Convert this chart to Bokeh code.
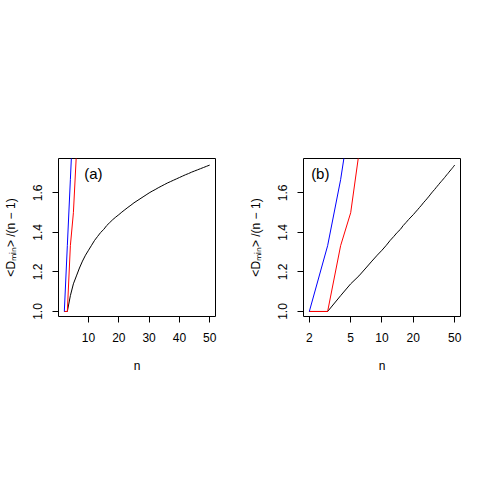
import numpy as np
from bokeh.plotting import figure
from bokeh.models import Range1d, FixedTicker, PrintfTickFormatter, Label
from bokeh.layouts import row
from bokeh.embed import file_html
from bokeh.resources import INLINE

# ---- data ----
n_black = list(range(2, 51))
d_black = [1.0, 1.0, 1.08, 1.14, 1.18, 1.22, 1.255, 1.285, 1.31, 1.335,
           1.36, 1.38, 1.40, 1.415, 1.435, 1.45, 1.465, 1.478, 1.49, 1.503,
           1.515, 1.527, 1.538, 1.55, 1.56, 1.57, 1.58, 1.59, 1.60, 1.609,
           1.617, 1.626, 1.634, 1.642, 1.65, 1.657, 1.664, 1.671, 1.678, 1.685,
           1.692, 1.698, 1.705, 1.711, 1.717, 1.723, 1.729, 1.735, 1.741]
n_blue = [2, 3, 4, 5, 6]
d_blue = [1.0, 1.333, 1.667, 2.0, 2.333]
n_red = [2, 3, 4, 5, 6, 7]
d_red = [1.0, 1.0, 1.333, 1.5, 1.8, 2.1]

x_ticks_a = [10, 20, 30, 40, 50]
x_ticks_b = [2, 5, 10, 20, 50]
y_ticks = [1.0, 1.2, 1.4, 1.6]

y_title = "<D\u2098\u1d62\u2099> /(n \u2212 1)"

FONT = "Liberation Sans"
W, H = 245, 400
BL, BR, BT = 57, 30, 158
FH = 158
Y0, Y1 = 0.9746, 1.7743


def make_panel(tag, log, tag_x):
    common = dict(width=W, height=H, y_range=Range1d(Y0, Y1),
                  output_backend="svg", toolbar_location=None,
                  min_border_left=BL, min_border_right=BR, min_border_top=BT,
                  min_border_bottom=H - BT - FH)
    if log:
        p = figure(x_range=Range1d(1.758, 56.89), x_axis_type="log", **common)
    else:
        p = figure(x_range=Range1d(0.08, 51.92), **common)
    p.background_fill_color = "white"
    p.border_fill_color = "white"
    p.outline_line_color = "black"
    p.outline_line_alpha = 1.0
    p.outline_line_width = 1
    p.grid.visible = False

    for ax in p.axis:
        ax.axis_line_color = None
        ax.major_tick_line_color = "black"
        ax.major_tick_out = 6
        ax.major_tick_in = 0
        ax.minor_tick_line_color = None
        ax.major_label_text_font = FONT
        ax.major_label_text_font_size = "12px"
        ax.major_label_text_color = "black"
        ax.major_label_standoff = 10
        ax.axis_label_text_font = FONT
        ax.axis_label_text_font_size = "12px"
        ax.axis_label_text_font_style = "normal"
        ax.axis_label_text_color = "black"
    p.xaxis.ticker = FixedTicker(ticks=x_ticks_b if log else x_ticks_a)
    p.xaxis.formatter = PrintfTickFormatter(format="%d")
    p.yaxis.ticker = FixedTicker(ticks=y_ticks)
    p.yaxis.formatter = PrintfTickFormatter(format="%.1f")
    p.yaxis.major_label_orientation = "vertical"

    p.xaxis.axis_label = "n"
    p.xaxis.axis_label_standoff = 14
    p.yaxis.axis_label = y_title
    p.yaxis.axis_label_standoff = 13

    p.line(n_black, d_black, line_color="black", line_width=1)
    p.line(n_red, d_red, line_color="#FF0000", line_width=1)
    p.line(n_blue, d_blue, line_color="#0000FF", line_width=1)

    p.add_layout(Label(x=tag_x, y=1.697, text=tag, text_align="center",
                       text_baseline="middle", text_font=FONT,
                       text_font_size="15px", text_color="black"))
    return p


pa = make_panel("(a)", False, 11.6)
pb = make_panel("(b)", True, 2.55)

layout = row(pa, pb)
open("out.html", "w").write(file_html(layout, INLINE))
